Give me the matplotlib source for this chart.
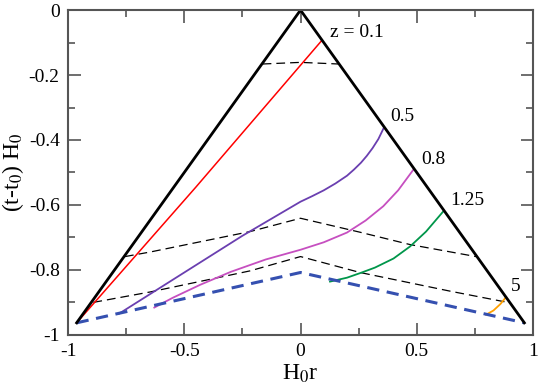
import matplotlib
matplotlib.use("Agg")
import matplotlib.pyplot as plt
from matplotlib.ticker import MultipleLocator

plt.rcParams["font.family"] = "Liberation Serif"
plt.rcParams["axes.unicode_minus"] = False
plt.rcParams["mathtext.fontset"] = "stix"

# light cone edges
cone_x = [-0.963, 0.0, 0.963]
cone_y = [-0.963, 0.0, -0.963]

# initial surface (thick blue dashed)
surf_x = [-0.963, 0.0, 0.963]
surf_y = [-0.963, -0.808, -0.963]

# constant-time slices (thin dashed)
slice1_x = [-0.163, 0.0, 0.163]
slice1_y = [-0.166, -0.161, -0.166]
slice2_x = [-0.755, -0.647, -0.217, 0.0, 0.256, 0.471, 0.755]
slice2_y = [-0.759, -0.745, -0.682, -0.641, -0.684, -0.722, -0.759]
slice3_x = [-0.891, -0.647, -0.217, 0.0, 0.256, 0.647, 0.891]
slice3_y = [-0.900, -0.868, -0.803, -0.759, -0.808, -0.866, -0.900]

# constant-redshift curves
z_labels = ["z = 0.1", "0.5", "0.8", "1.25", "5"]
z01_x = [-0.963, -0.45, 0.091]
z01_y = [-0.963, -0.545, -0.094]
z05_x = [-0.781, -0.5, -0.25, 0.0, 0.05, 0.1, 0.15, 0.2, 0.23, 0.26,
         0.285, 0.31, 0.335, 0.358]
z05_y = [-0.935, -0.808, -0.695, -0.59, -0.573, -0.555, -0.534, -0.51,
         -0.491, -0.47, -0.449, -0.425, -0.397, -0.363]
z08_x = [-0.629, -0.55, -0.432, -0.3, -0.15, 0.0, 0.1, 0.2, 0.28, 0.356,
         0.42, 0.487]
z08_y = [-0.916, -0.886, -0.846, -0.806, -0.768, -0.738, -0.715, -0.685,
         -0.648, -0.604, -0.555, -0.49]
z125_x = [0.127, 0.2, 0.256, 0.32, 0.4, 0.471, 0.54, 0.614]
z125_y = [-0.836, -0.824, -0.81, -0.793, -0.765, -0.728, -0.682, -0.62]
z5_x = [0.798, 0.83, 0.86, 0.884]
z5_y = [-0.938, -0.925, -0.905, -0.884]

# label positions
lab_x = [0.127, 0.385, 0.52, 0.643, 0.905]
lab_y = [-0.07, -0.328, -0.459, -0.585, -0.851]

fig = plt.figure(figsize=(5.4, 3.88), dpi=100)
ax = fig.add_axes([0.126, 0.137, 0.861, 0.837])

ax.plot(slice1_x, slice1_y, color="black", lw=0.9, dashes=(7, 4))
ax.plot(slice2_x, slice2_y, color="black", lw=0.9, dashes=(7, 4))
ax.plot(slice3_x, slice3_y, color="black", lw=0.9, dashes=(7, 4))

ax.plot(z01_x, z01_y, color="#ff0000", lw=1.1)
ax.plot(z05_x, z05_y, color="#6a3fb0", lw=1.3)
ax.plot(z08_x, z08_y, color="#c64fc0", lw=1.3)
ax.plot(z125_x, z125_y, color="#00964a", lw=1.3)
ax.plot(z5_x, z5_y, color="#ffa000", lw=1.3)

ax.plot(surf_x, surf_y, color="#3550b0", lw=2.2, dashes=(4, 2.5))
ax.plot(cone_x, cone_y, color="black", lw=2.0)

for txt, lx, ly in zip(z_labels, lab_x, lab_y):
    ax.text(lx, ly, txt, fontsize=14, ha="left", va="center")

ax.set_xlim(-1, 1)
ax.set_ylim(-1, 0)
ax.xaxis.set_minor_locator(MultipleLocator(0.25))
ax.yaxis.set_minor_locator(MultipleLocator(0.1))
ax.set_xticks([-1, -0.5, 0, 0.5, 1])
ax.set_xticklabels(["-1", "-0.5", "0", "0.5", "1"])
ax.set_yticks([-1, -0.8, -0.6, -0.4, -0.2, 0])
ax.set_yticklabels(["-1", "-0.8", "-0.6", "-0.4", "-0.2", "0"])

ax.tick_params(which="both", direction="in", top=True, right=True,
               color="#555555", labelsize=14, width=1.2)
ax.tick_params(which="major", length=9, pad=6)
ax.tick_params(which="minor", length=5)
for s in ax.spines.values():
    s.set_color("#555555")
    s.set_linewidth(1.5)

ax.set_xlabel(r"H$_0$r", fontsize=17, labelpad=2)
ax.set_ylabel(r"(t-t$_0$) H$_0$", fontsize=17, labelpad=2)

fig.savefig("out.png", dpi=100)
